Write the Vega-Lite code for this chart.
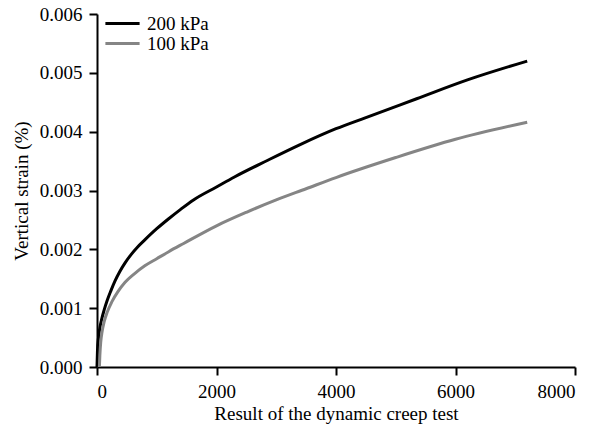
{
  "$schema": "https://vega.github.io/schema/vega-lite/v6.json",
  "autosize": "none",
  "width": 478,
  "height": 353,
  "padding": {"left": 97, "top": 14, "right": 22, "bottom": 59},
  "background": "white",
  "config": {
    "view": {"stroke": null},
    "font": "Liberation Serif"
  },
  "data": {"values": [
    {"x": 0, "y": 0, "s": "200 kPa"},
    {"x": 8, "y": 0.00028, "s": "200 kPa"},
    {"x": 25, "y": 0.0005, "s": "200 kPa"},
    {"x": 50, "y": 0.00068, "s": "200 kPa"},
    {"x": 80, "y": 0.00082, "s": "200 kPa"},
    {"x": 120, "y": 0.00097, "s": "200 kPa"},
    {"x": 170, "y": 0.00113, "s": "200 kPa"},
    {"x": 230, "y": 0.00129, "s": "200 kPa"},
    {"x": 300, "y": 0.00146, "s": "200 kPa"},
    {"x": 380, "y": 0.00162, "s": "200 kPa"},
    {"x": 470, "y": 0.00177, "s": "200 kPa"},
    {"x": 570, "y": 0.00191, "s": "200 kPa"},
    {"x": 680, "y": 0.00204, "s": "200 kPa"},
    {"x": 800, "y": 0.00216, "s": "200 kPa"},
    {"x": 1000, "y": 0.00235, "s": "200 kPa"},
    {"x": 1200, "y": 0.00252, "s": "200 kPa"},
    {"x": 1400, "y": 0.00268, "s": "200 kPa"},
    {"x": 1615, "y": 0.00284, "s": "200 kPa"},
    {"x": 2000, "y": 0.00306, "s": "200 kPa"},
    {"x": 2300, "y": 0.00323, "s": "200 kPa"},
    {"x": 2850, "y": 0.00351, "s": "200 kPa"},
    {"x": 3400, "y": 0.00378, "s": "200 kPa"},
    {"x": 4000, "y": 0.00405, "s": "200 kPa"},
    {"x": 4500, "y": 0.00424, "s": "200 kPa"},
    {"x": 5350, "y": 0.00456, "s": "200 kPa"},
    {"x": 6200, "y": 0.00488, "s": "200 kPa"},
    {"x": 7200, "y": 0.0052, "s": "200 kPa"},
    {"x": 40, "y": 0, "s": "100 kPa"},
    {"x": 48, "y": 0.0002, "s": "100 kPa"},
    {"x": 62, "y": 0.00042, "s": "100 kPa"},
    {"x": 85, "y": 0.0006, "s": "100 kPa"},
    {"x": 120, "y": 0.00077, "s": "100 kPa"},
    {"x": 170, "y": 0.00093, "s": "100 kPa"},
    {"x": 250, "y": 0.00111, "s": "100 kPa"},
    {"x": 350, "y": 0.00128, "s": "100 kPa"},
    {"x": 470, "y": 0.00144, "s": "100 kPa"},
    {"x": 620, "y": 0.00158, "s": "100 kPa"},
    {"x": 800, "y": 0.00172, "s": "100 kPa"},
    {"x": 1000, "y": 0.00184, "s": "100 kPa"},
    {"x": 1200, "y": 0.00196, "s": "100 kPa"},
    {"x": 1450, "y": 0.0021, "s": "100 kPa"},
    {"x": 2000, "y": 0.0024, "s": "100 kPa"},
    {"x": 2500, "y": 0.00263, "s": "100 kPa"},
    {"x": 3000, "y": 0.00284, "s": "100 kPa"},
    {"x": 3500, "y": 0.00303, "s": "100 kPa"},
    {"x": 4000, "y": 0.00322, "s": "100 kPa"},
    {"x": 5000, "y": 0.00356, "s": "100 kPa"},
    {"x": 6000, "y": 0.00387, "s": "100 kPa"},
    {"x": 7200, "y": 0.00416, "s": "100 kPa"}
  ]},
  "mark": {"type": "line", "strokeWidth": 3, "interpolate": "monotone"},
  "encoding": {
    "x": {"field": "x", "type": "quantitative", "scale": {"domain": [0, 8000], "nice": false},
      "axis": {"values": [0, 2000, 4000, 6000, 8000], "format": "d", "title": "Result of the dynamic creep test",
        "domainColor": "black", "domainWidth": 2, "tickColor": "black", "tickWidth": 2, "tickSize": 8, "grid": false,
        "labelFont": "Liberation Serif", "labelFontSize": 19, "labelColor": "black", "labelPadding": 7,
        "titleFont": "Liberation Serif", "titleFontSize": 19, "titleFontWeight": "normal", "titleColor": "black", "titlePadding": 3}},
    "y": {"field": "y", "type": "quantitative", "scale": {"domain": [0, 0.006], "nice": false},
      "axis": {"values": [0, 0.001, 0.002, 0.003, 0.004, 0.005, 0.006], "format": ".3f", "title": "Vertical strain (%)",
        "domainColor": "black", "domainWidth": 2, "tickColor": "black", "tickWidth": 2, "tickSize": 8, "grid": false,
        "labelFont": "Liberation Serif", "labelFontSize": 19, "labelColor": "black", "labelPadding": 7,
        "titleFont": "Liberation Serif", "titleFontSize": 19, "titleFontWeight": "normal", "titleColor": "black", "titlePadding": 8}},
    "color": {"field": "s", "type": "nominal",
      "scale": {"domain": ["200 kPa", "100 kPa"], "range": ["#000000", "#858585"]},
      "legend": {"title": null, "orient": "none", "legendX": 16, "legendY": 0, "symbolType": "M-3,0H3", "symbolStrokeWidth": 3, "symbolSize": 130,
        "symbolFillColor": "transparent",
        "labelOffset": 15, "rowPadding": 0, "labelFont": "Liberation Serif", "labelFontSize": 19, "labelColor": "black"}}
  }
}
